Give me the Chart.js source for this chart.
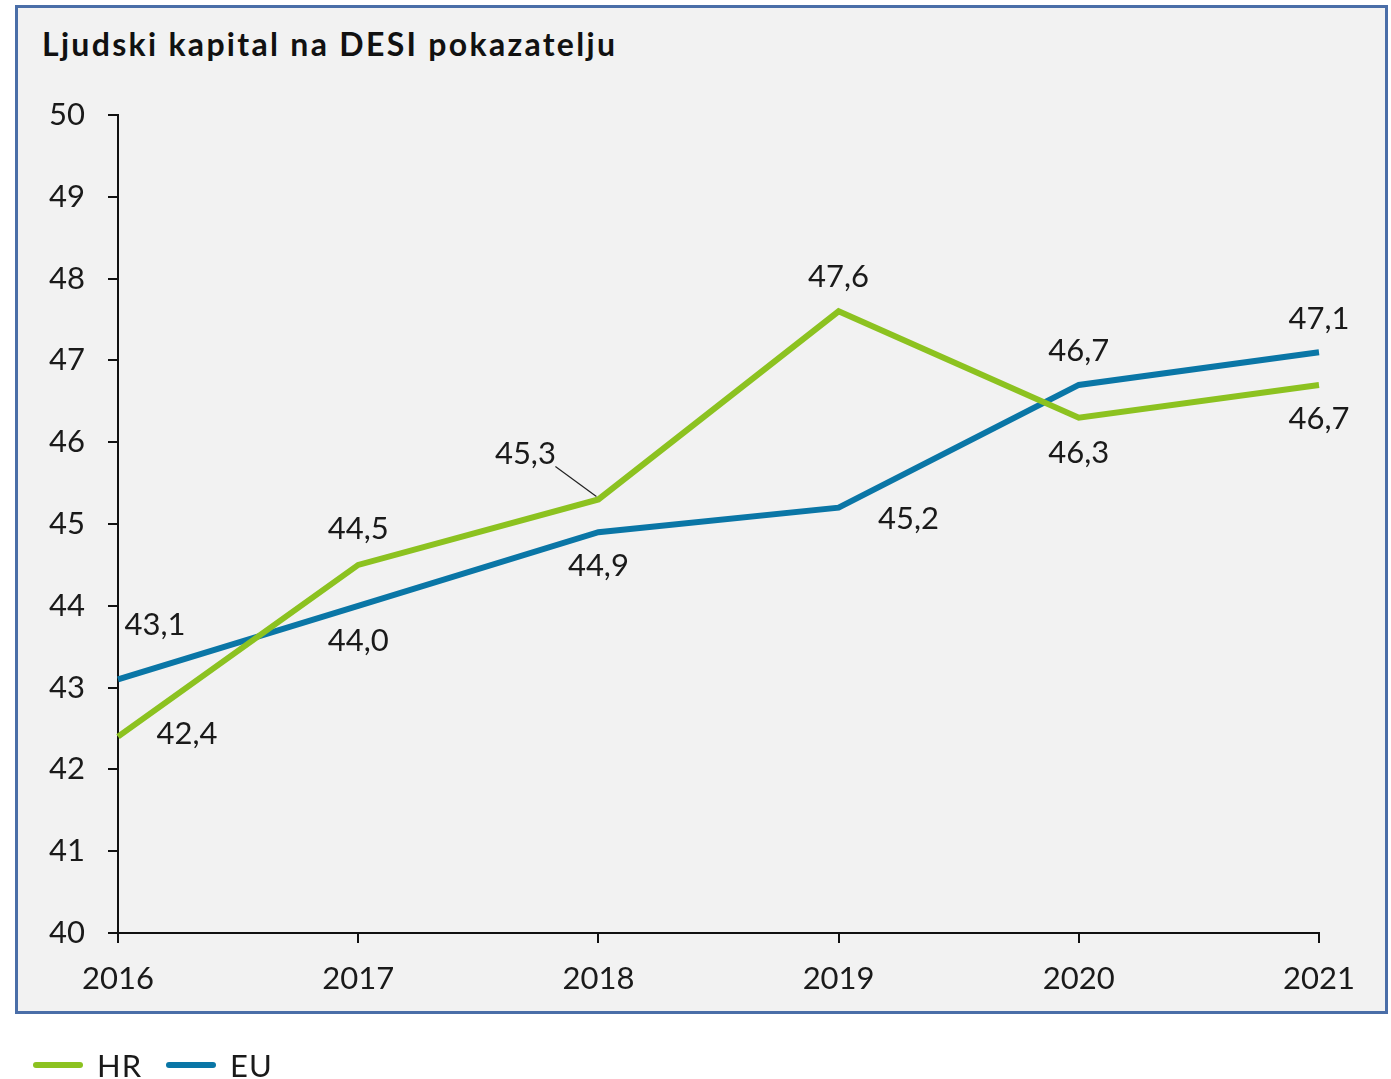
<!DOCTYPE html>
<html lang="hr">
<head>
  <meta charset="UTF-8">
  <title>Ljudski kapital na DESI pokazatelju</title>
  <style>
    body {
      margin: 0;
      background: #fff;
      font-family: 'Lato', sans-serif;
      color: #1a1a1a;
    }
    .panel {
      position: absolute;
      left: 15px;
      top: 5px;
      width: 1367px;
      height: 1003px;
      background: #f2f2f2;
      border: 3px solid #4a6ea8;
    }
    .title {
      position: absolute;
      left: 42px;
      top: 24px;
      font-size: 32px;
      font-weight: bold;
      letter-spacing: 2.3px;
      color: #111;
    }
    .wrap {
      position: absolute;
      left: 0;
      top: 0;
      width: 1391px;
      height: 1079px;
    }
    .legend {
      position: absolute;
      left: 33px;
      top: 1046px;
      display: flex;
      align-items: center;
      font-size: 31px;
      letter-spacing: 1px;
    }
    .legend .item { display: flex; align-items: center; margin-right: 24px; }
    .legend .swatch {
      width: 50px;
      height: 6px;
      border-radius: 3px;
      margin-right: 14px;
    }
  </style>
</head>
<body>
  <div class="panel"></div>
  <div class="title">Ljudski kapital na DESI pokazatelju</div>
  <div class="wrap"><canvas id="grafik"></canvas></div>
  <div class="legend">
    <div class="item"><span class="swatch" style="background:#8cc220"></span>HR</div>
    <div class="item"><span class="swatch" style="background:#0a76a6"></span>EU</div>
  </div>

  <script src="https://cdn.jsdelivr.net/npm/chart.js"></script>
  <script>
    const godine = ["2016", "2017", "2018", "2019", "2020", "2021"];
    const hr = [42.4, 44.5, 45.3, 47.6, 46.3, 46.7];
    const eu = [43.1, 44.0, 44.9, 45.2, 46.7, 47.1];

    // pomaci oznaka vrijednosti (dx, dy) u odnosu na tocku
    const pomaciHR = [[69, -3], [0, -36], [-73, -45], [0, -34], [0, 35], [0, 34]];
    const pomaciEU = [[37, -54], [0, 35], [0, 34], [70, 11], [0, -34], [0, -33]];

    const oznake = {
      id: "oznake",
      afterDatasetsDraw(chart) {
        const ctx = chart.ctx;
        ctx.save();
        ctx.font = "31px Lato";
        ctx.fillStyle = "#1a1a1a";
        ctx.textAlign = "center";
        ctx.textBaseline = "middle";
        [pomaciHR, pomaciEU].forEach((pomaci, di) => {
          const meta = chart.getDatasetMeta(di);
          meta.data.forEach((p, i) => {
            const v = chart.data.datasets[di].data[i];
            const [dx, dy] = pomaci[i];
            ctx.fillText(v.toFixed(1).replace(".", ","), p.x + dx, p.y + dy);
            if (di === 0 && i === 2) {
              ctx.strokeStyle = "#222";
              ctx.lineWidth = 1.2;
              ctx.beginPath();
              ctx.moveTo(p.x - 43, p.y - 33);
              ctx.lineTo(p.x - 2, p.y - 3);
              ctx.stroke();
            }
          });
        });
        ctx.restore();
      }
    };

    const osi = {
      grid: { drawOnChartArea: false, color: "#111", lineWidth: 2, tickLength: 10 },
      border: { color: "#111", width: 2 },
      ticks: { color: "#1a1a1a", font: { family: "Lato", size: 31 } }
    };

    new Chart(document.getElementById("grafik"), {
      type: "line",
      data: {
        labels: godine,
        datasets: [
          { label: "HR", data: hr, borderColor: "#8cc220", borderWidth: 6, pointRadius: 0, tension: 0 },
          { label: "EU", data: eu, borderColor: "#0a76a6", borderWidth: 6, pointRadius: 0, tension: 0 }
        ]
      },
      options: {
        responsive: true,
        maintainAspectRatio: false,
        animation: false,
        layout: { padding: { left: 0, right: 72, top: 115, bottom: 0 } },
        plugins: { legend: { display: false }, tooltip: { enabled: false } },
        scales: {
          x: {
            ...osi,
            offset: false,
            ticks: { ...osi.ticks, padding: 17, maxRotation: 0 },
            afterFit(s) { s.height = 146; }
          },
          y: {
            ...osi,
            min: 40,
            max: 50,
            ticks: { ...osi.ticks, stepSize: 1, padding: 23 },
            afterFit(s) { s.width = 118; }
          }
        }
      },
      plugins: [oznake]
    });
  </script>
</body>
</html>
